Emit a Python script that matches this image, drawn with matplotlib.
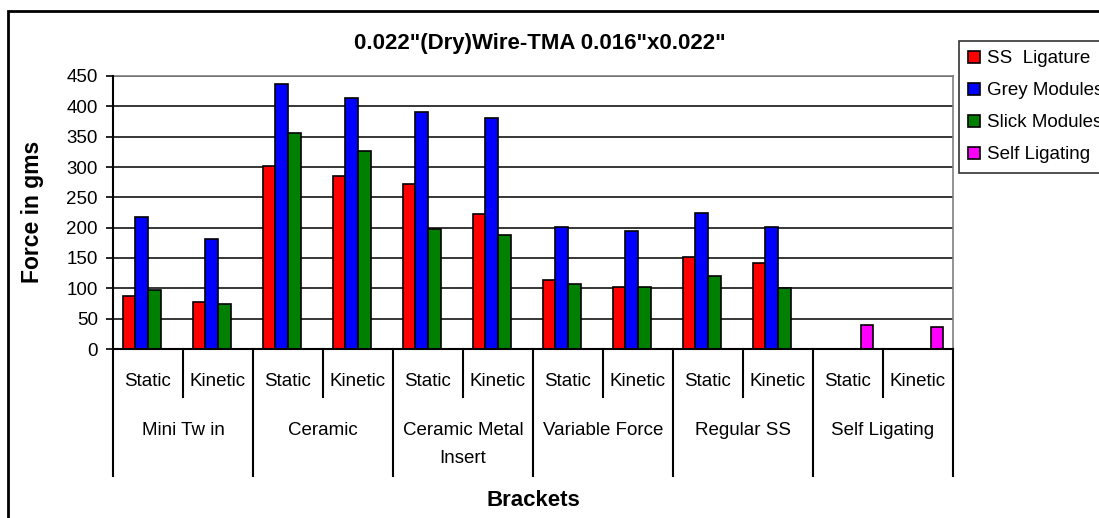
import matplotlib
matplotlib.use("Agg")
import matplotlib.pyplot as plt
import matplotlib.transforms as mtransforms
from matplotlib.patches import Rectangle
import numpy as np

plt.rcParams['font.family'] = ['Liberation Sans', 'DejaVu Sans']

# Data
groups = ["Mini Tw in", "Ceramic", "Ceramic Metal\nInsert", "Variable Force",
          "Regular SS", "Self Ligating"]
phases = ["Static", "Kinetic"]
series_names = ["SS  Ligature", "Grey Modules", "Slick Modules", "Self Ligating"]
series_colors = ["#FF0000", "#0000FF", "#008000", "#FF00FF"]

ss_ligature = [87, 77, 302, 285, 272, 222, 114, 103, 151, 141, 0, 0]
grey_modules = [218, 181, 437, 413, 390, 380, 201, 195, 225, 201, 0, 0]
slick_modules = [97, 74, 356, 326, 197, 188, 107, 103, 120, 100, 0, 0]
self_ligating = [0, 0, 0, 0, 0, 0, 0, 0, 0, 0, 40, 37]

y_ticks = [0, 50, 100, 150, 200, 250, 300, 350, 400, 450]

W, H = 1099, 518
fig = plt.figure(figsize=(W / 100, H / 100), dpi=100)

# plot area in pixel coordinates
px_left, px_right, px_top, px_bottom = 113, 953, 76, 349
ax = fig.add_axes([px_left / W, 1 - px_bottom / H,
                   (px_right - px_left) / W, (px_bottom - px_top) / H])

all_series = [ss_ligature, grey_modules, slick_modules, self_ligating]
n_slots = len(ss_ligature)
slot_x = np.arange(n_slots) + 0.5
bar_w = 1 / 5.5

handles = []
for k, (vals, name, col) in enumerate(zip(all_series, series_names, series_colors)):
    h = ax.bar(slot_x + (k - 1.5) * bar_w, vals, width=bar_w, color=col,
               edgecolor="black", linewidth=1.2, label=name, zorder=3)
    handles.append(h)

ax.set_xlim(0, n_slots)
ax.set_ylim(0, 450)
ax.set_yticks(y_ticks)
ax.set_yticklabels([str(t) for t in y_ticks], fontsize=13.5)
ax.tick_params(axis='y', direction='out', length=5, width=1.2, pad=6, color='black')
ax.set_xticks([])
ax.yaxis.grid(True, color='black', linewidth=1.1)
ax.set_axisbelow(True)

for side in ("top", "right"):
    ax.spines[side].set_color("#808080")
    ax.spines[side].set_linewidth(1.2)
    ax.spines[side].set_zorder(4)
for side in ("left", "bottom"):
    ax.spines[side].set_color("black")
    ax.spines[side].set_linewidth(1.5)
    ax.spines[side].set_zorder(5)

# category axis: separators and labels below the plot
axes_h = px_bottom - px_top
def drop(px):
    return -px / axes_h

trans = mtransforms.blended_transform_factory(ax.transData, ax.transAxes)
for i in range(n_slots + 1):
    depth = 127 if i % 2 == 0 else 48
    ax.plot([i, i], [0, drop(depth)], transform=trans, color="black",
            linewidth=1.5, clip_on=False, zorder=5)

for i in range(n_slots):
    ax.text(slot_x[i], drop(32), phases[i % 2], transform=trans,
            ha="center", va="center", fontsize=13.5)

for g, name in enumerate(groups):
    ax.text(2 * g + 1, drop(73), name, transform=trans, ha="center", va="top",
            fontsize=13.5, linespacing=1.85)

ax.text(6, drop(152), "Brackets", transform=trans, ha="center", va="center",
        fontsize=16, fontweight="bold")

fig.text(32 / W, 1 - 212 / H, "Force in gms", rotation=90, ha="center",
         va="center", fontsize=16.5, fontweight="bold")

fig.text(540 / W, 1 - 43 / H, '0.022"(Dry)Wire-TMA 0.016"x0.022"', ha="center",
         va="center", fontsize=16, fontweight="bold")

# outer chart frame
fig.patches.append(Rectangle((8 / W, -0.05), 1.2, 1 - 10.5 / H + 0.05,
                             transform=fig.transFigure, fill=False,
                             edgecolor="black", linewidth=2))

leg = fig.legend(handles=handles, labels=series_names, loc="upper left",
                 bbox_to_anchor=(959 / W, 1 - 41 / H), fontsize=13.5,
                 frameon=True, fancybox=False, edgecolor="black",
                 handlelength=0.6, handleheight=0.6, handletextpad=0.4,
                 labelspacing=0.8, borderpad=0.5, borderaxespad=0)
leg.get_frame().set_linewidth(1.2)

fig.savefig("out.png", dpi=100, facecolor="white")
